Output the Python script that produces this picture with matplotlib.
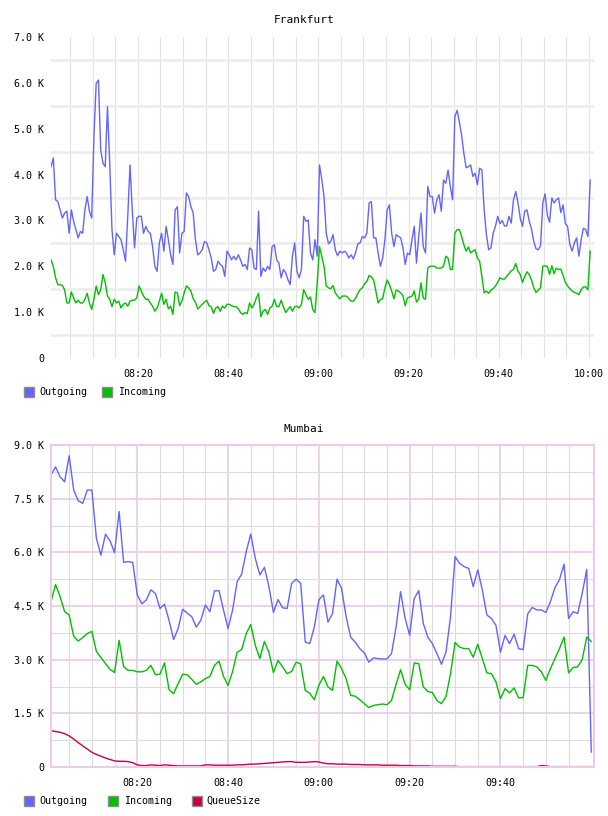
import numpy as np
import pandas as pd
import matplotlib
matplotlib.use("Agg")
import matplotlib.pyplot as plt
import matplotlib.dates as mdates
from matplotlib.patches import Rectangle
from matplotlib.ticker import FixedLocator, FuncFormatter

# Frankfurt: samples every 30 s, values in thousands
fra_start = "2020-01-01 08:00:45"
fra_out = [4.17, 4.36, 3.45, 3.41, 3.23, 3.05, 3.16, 3.2, 2.72, 3.23,
           2.98, 2.8, 2.62, 2.76, 2.72, 3.23, 3.52, 3.2, 3.05, 4.83,
           5.99, 6.06, 4.54, 4.25, 4.17, 5.48, 4.25, 2.8, 2.25, 2.72,
           2.65, 2.58, 2.36, 2.11, 3.09, 4.21, 3.23, 2.4, 3.05, 3.09,
           3.09, 2.72, 2.87, 2.76, 2.72, 2.43, 2.0, 1.89, 2.51, 2.72,
           2.33, 2.87, 2.58, 2.25, 2.04, 3.23, 3.3, 2.29, 2.72, 2.76,
           3.6, 3.52, 3.3, 3.16, 2.58, 2.25, 2.29, 2.36, 2.54, 2.51,
           2.36, 2.18, 1.89, 1.93, 2.11, 2.04, 2.0, 1.78, 2.33, 2.25,
           2.14, 2.22, 2.14, 2.25, 2.14, 2.0, 2.04, 1.93, 2.4, 2.36,
           1.96, 1.93, 3.2, 1.78, 1.96, 1.89, 2.0, 1.93, 2.43, 2.47,
           2.14, 2.07, 1.75, 1.93, 1.86, 1.71, 1.6, 2.22, 2.51, 1.89,
           1.75, 1.93, 3.09, 2.98, 3.01, 2.29, 2.14, 2.58, 2.22, 4.21,
           3.9, 3.52, 2.72, 2.49, 2.54, 2.69, 2.36, 2.23, 2.33, 2.29,
           2.33, 2.29, 2.18, 2.25, 2.16, 2.3, 2.49, 2.51, 2.65, 2.62,
           2.72, 3.38, 3.41, 2.62, 2.62, 2.29, 2.0, 2.18, 2.58, 3.23,
           3.34, 2.72, 2.43, 2.69, 2.65, 2.62, 2.4, 2.04, 2.29, 2.25,
           2.58, 2.87, 2.07, 2.65, 3.16, 2.43, 2.29, 3.74, 3.52, 3.52,
           3.16, 3.45, 3.56, 3.2, 3.88, 3.81, 4.1, 3.74, 3.45, 5.26,
           5.4, 5.15, 4.86, 4.46, 4.15, 4.17, 4.21, 3.96, 4.03, 3.78,
           4.14, 4.1, 3.23, 2.69, 2.36, 2.4, 2.72, 2.87, 3.09, 2.93,
           3.0, 2.88, 2.88, 3.09, 2.94, 3.45, 3.63, 3.38, 3.05, 2.87,
           3.2, 3.23, 2.98, 2.81, 2.54, 2.38, 2.36, 2.45, 3.38, 3.58,
           3.12, 2.96, 3.49, 3.38, 3.45, 3.49, 3.17, 3.34, 2.93, 2.87,
           2.47, 2.33, 2.51, 2.62, 2.22, 2.58, 2.83, 2.8, 2.65, 3.88]
fra_in = [2.14, 2.0, 1.75, 1.6, 1.6, 1.58, 1.49, 1.2, 1.2, 1.44,
          1.31, 1.2, 1.26, 1.2, 1.2, 1.28, 1.41, 1.2, 1.06, 1.28,
          1.57, 1.38, 1.49, 1.82, 1.64, 1.35, 1.28, 1.12, 1.28, 1.2,
          1.24, 1.09, 1.17, 1.2, 1.13, 1.24, 1.26, 1.26, 1.31, 1.57,
          1.46, 1.35, 1.28, 1.28, 1.2, 1.13, 1.02, 1.09, 1.24, 1.41,
          1.17, 1.28, 1.07, 1.13, 0.95, 1.44, 1.42, 1.14, 1.24, 1.42,
          1.57, 1.53, 1.46, 1.29, 1.22, 1.07, 1.12, 1.17, 1.22, 1.26,
          1.14, 1.12, 0.97, 1.09, 1.12, 1.02, 1.13, 1.09, 1.17, 1.17,
          1.14, 1.12, 1.12, 1.07, 0.99, 0.95, 0.99, 0.97, 1.2, 1.09,
          1.17, 1.31, 1.41, 0.9, 1.02, 1.06, 0.95, 1.09, 1.13, 1.28,
          1.12, 1.12, 1.26, 1.12, 0.99, 1.06, 1.12, 1.02, 1.12, 1.13,
          1.09, 1.17, 1.49, 1.38, 1.28, 1.33, 1.06, 0.99, 1.64, 2.43,
          2.22, 2.0, 1.57, 1.53, 1.51, 1.58, 1.42, 1.35, 1.29, 1.35,
          1.35, 1.35, 1.29, 1.24, 1.24, 1.3, 1.41, 1.49, 1.53, 1.62,
          1.67, 1.8, 1.77, 1.7, 1.46, 1.2, 1.28, 1.29, 1.53, 1.7,
          1.6, 1.46, 1.29, 1.48, 1.46, 1.42, 1.36, 1.14, 1.31, 1.33,
          1.35, 1.46, 1.22, 1.28, 1.64, 1.31, 1.28, 1.96, 2.0, 2.0,
          2.0, 1.96, 1.96, 1.96, 2.0, 2.22, 2.18, 1.93, 1.93, 2.72,
          2.8, 2.8, 2.65, 2.47, 2.33, 2.42, 2.29, 2.33, 2.36, 2.18,
          2.11, 1.78, 1.42, 1.46, 1.41, 1.48, 1.51, 1.57, 1.65, 1.75,
          1.72, 1.72, 1.78, 1.84, 1.9, 1.93, 2.06, 1.89, 1.82, 1.65,
          1.78, 1.88, 1.82, 1.7, 1.53, 1.43, 1.48, 1.53, 2.0, 2.01,
          2.0, 1.82, 2.01, 1.84, 1.96, 1.93, 1.94, 1.8, 1.65, 1.57,
          1.51, 1.46, 1.43, 1.41, 1.38, 1.49, 1.55, 1.55, 1.49, 2.33]

# Mumbai: samples every minute, values in thousands
mum_start = "2020-01-01 08:01:00"
mum_out = [8.16, 8.39, 8.11, 7.97, 8.7, 7.74, 7.44, 7.37, 7.74, 7.74,
           6.39, 5.92, 6.51, 6.32, 5.99, 7.14, 5.72, 5.74, 5.72, 4.81,
           4.56, 4.67, 4.95, 4.85, 4.43, 4.55, 4.1, 3.56, 3.87, 4.41,
           4.3, 4.2, 3.91, 4.1, 4.53, 4.34, 4.92, 4.93, 4.39, 3.87,
           4.39, 5.18, 5.39, 6.02, 6.51, 5.83, 5.37, 5.58, 5.04, 4.32,
           4.68, 4.45, 4.43, 5.13, 5.25, 5.13, 3.49, 3.45, 3.91, 4.67,
           4.81, 4.05, 4.29, 5.25, 4.99, 4.2, 3.63, 3.49, 3.31, 3.19,
           2.93, 3.05, 3.03, 3.02, 3.02, 3.17, 3.91, 4.9, 4.15, 3.68,
           4.71, 4.93, 4.01, 3.63, 3.45, 3.17, 2.87, 3.21, 4.2, 5.88,
           5.69, 5.6, 5.55, 5.04, 5.51, 4.95, 4.25, 4.15, 3.96, 3.21,
           3.68, 3.45, 3.71, 3.31, 3.28, 4.28, 4.46, 4.39, 4.39, 4.32,
           4.62, 5.01, 5.24, 5.67, 4.15, 4.34, 4.29, 4.85, 5.52, 0.42]
mum_in = [4.62, 5.1, 4.76, 4.34, 4.25, 3.65, 3.52, 3.62, 3.73, 3.79,
          3.23, 3.06, 2.89, 2.73, 2.64, 3.54, 2.8, 2.7, 2.7, 2.66,
          2.66, 2.7, 2.84, 2.58, 2.59, 2.91, 2.16, 2.05, 2.33, 2.59,
          2.58, 2.45, 2.31, 2.38, 2.47, 2.53, 2.84, 2.96, 2.53, 2.28,
          2.67, 3.21, 3.28, 3.73, 3.98, 3.4, 3.03, 3.51, 3.2, 2.64,
          2.98, 2.8, 2.61, 2.67, 2.93, 2.88, 2.14, 2.06, 1.88, 2.28,
          2.53, 2.24, 2.14, 2.96, 2.75, 2.47, 2.0, 1.98, 1.88, 1.77,
          1.66, 1.72, 1.74, 1.76, 1.74, 1.86, 2.31, 2.72, 2.31, 2.16,
          2.91, 2.89, 2.24, 2.11, 2.08, 1.86, 1.77, 1.97, 2.61, 3.48,
          3.35, 3.31, 3.31, 3.07, 3.43, 3.03, 2.63, 2.61, 2.38, 1.91,
          2.19, 2.07, 2.21, 1.93, 1.94, 2.84, 2.84, 2.8, 2.66, 2.42,
          2.75, 3.03, 3.31, 3.63, 2.63, 2.78, 2.8, 3.0, 3.63, 3.51]
mum_queue = [1.02, 0.99, 0.97, 0.93, 0.87, 0.78, 0.68, 0.59, 0.5, 0.41,
             0.35, 0.3, 0.25, 0.21, 0.17, 0.16, 0.16, 0.15, 0.12, 0.06,
             0.04, 0.04, 0.06, 0.05, 0.04, 0.06, 0.05, 0.04, 0.03, 0.03,
             0.03, 0.03, 0.03, 0.03, 0.06, 0.06, 0.05, 0.05, 0.05, 0.05,
             0.05, 0.06, 0.06, 0.07, 0.08, 0.08, 0.09, 0.1, 0.11, 0.12,
             0.13, 0.14, 0.15, 0.15, 0.13, 0.13, 0.13, 0.14, 0.15, 0.14,
             0.11, 0.09, 0.09, 0.08, 0.08, 0.08, 0.07, 0.07, 0.07, 0.06,
             0.06, 0.06, 0.06, 0.05, 0.05, 0.05, 0.05, 0.04, 0.04, 0.04,
             0.03, 0.03, 0.03, 0.03, 0.02, 0.02, 0.02, 0.02, 0.02, 0.02,
             0.01, 0.01, 0.01, 0.01, 0.01, 0.01, 0.01, 0.01, 0.01, 0.01,
             0.01, 0.01, 0.01, 0.01, 0.01, 0.01, 0.01, 0.01, 0.04, 0.03,
             0.01, 0.01, 0.01, 0.01, 0.01, 0.01, 0.01, 0.01, 0.01, 0.01]

blue = "#6464ff"
green = "#00c000"
red = "#c8003c"
mono = "DejaVu Sans Mono"

W, H = 608, 816
fig = plt.figure(figsize=(W / 100, H / 100), dpi=100)


def k_fmt(v, pos):
    return "0" if v == 0 else "%.1f K" % (v / 1000)


def add_axes(left, top, right, bottom):
    return fig.add_axes([left / W, 1 - bottom / H, (right - left) / W, (bottom - top) / H])


def legend(y, items):
    for x, tx, label, col in items:
        fig.add_artist(Rectangle((x / W, 1 - (y + 5) / H), 10 / W, 10 / H,
                                 transform=fig.transFigure, facecolor=col,
                                 edgecolor="#8c8c8c", lw=1))
        fig.text(tx / W, 1 - y / H, label, family=mono, fontsize=7.2,
                 va="center", ha="left")


def style_ticks(ax, last):
    ax.tick_params(which="both", length=0, labelsize=7.2)
    ax.tick_params(axis="y", pad=5)
    ax.tick_params(axis="x", pad=8)
    major = pd.date_range("2020-01-01 08:20", last, freq="20min")
    minor = pd.date_range("2020-01-01 08:05", last, freq="5min")
    ax.xaxis.set_major_locator(FixedLocator(mdates.date2num(major)))
    ax.xaxis.set_minor_locator(FixedLocator(mdates.date2num(minor)))
    ax.xaxis.set_major_formatter(mdates.DateFormatter("%H:%M"))
    ax.yaxis.set_major_formatter(FuncFormatter(k_fmt))
    ax.set_axisbelow(True)


# ---- Frankfurt ----
t_fra = pd.date_range(fra_start, periods=len(fra_out), freq="30s")
ax1 = add_axes(51, 37, 594, 358)
ax1.plot(t_fra, np.array(fra_out) * 1000, color=blue, lw=1.0)
ax1.plot(t_fra, np.array(fra_in) * 1000, color=green, lw=1.0)
ax1.set_ylim(0, 7000)
ax1.set_xlim(pd.Timestamp("2020-01-01 08:00:44"), pd.Timestamp("2020-01-01 10:01:06"))
style_ticks(ax1, "2020-01-01 10:00")
ax1.yaxis.set_major_locator(FixedLocator(np.arange(0, 7001, 1000)))
ax1.yaxis.set_minor_locator(FixedLocator(np.arange(500, 7000, 1000)))
ax1.yaxis.grid(True, which="minor", color="#ececec", lw=1.8)
ax1.xaxis.grid(True, which="both", color="#e2e2e2", lw=0.8)
for s in ax1.spines.values():
    s.set_visible(False)
for lab in ax1.get_xticklabels() + ax1.get_yticklabels():
    lab.set_family(mono)
fig.text(304 / W, 1 - 20 / H, "Frankfurt", family=mono, fontsize=8,
         ha="center", va="center")
legend(392, [(24, 39, "Outgoing", blue), (102, 118, "Incoming", green)])

# ---- Mumbai ----
t_mum = pd.date_range(mum_start, periods=len(mum_out), freq="1min")
ax2 = add_axes(51, 445, 594, 767)
ax2.plot(t_mum, np.array(mum_out) * 1000, color=blue, lw=1.0)
ax2.plot(t_mum, np.array(mum_in) * 1000, color=green, lw=1.0)
ax2.plot(t_mum, np.array(mum_queue) * 1000, color=red, lw=1.0)
ax2.set_ylim(0, 9000)
ax2.set_xlim(pd.Timestamp("2020-01-01 08:01:00"), pd.Timestamp("2020-01-01 10:00:36"))
style_ticks(ax2, "2020-01-01 09:55")
ax2.yaxis.set_major_locator(FixedLocator(np.arange(0, 9001, 1500)))
ax2.yaxis.set_minor_locator(FixedLocator(np.arange(750, 9000, 1500)))
pink = "#e8cce8"
ax2.yaxis.grid(True, which="major", color=pink, lw=1.2)
ax2.yaxis.grid(True, which="minor", color="#dcdcdc", lw=0.8)
ax2.xaxis.grid(True, which="major", color=pink, lw=1.2)
ax2.xaxis.grid(True, which="minor", color="#dcdcdc", lw=0.8)
for s in ax2.spines.values():
    s.set_color(pink)
    s.set_linewidth(1.5)
for lab in ax2.get_xticklabels() + ax2.get_yticklabels():
    lab.set_family(mono)
fig.text(304 / W, 1 - 429 / H, "Mumbai", family=mono, fontsize=8,
         ha="center", va="center")
legend(801, [(24, 39, "Outgoing", blue), (108, 124, "Incoming", green),
             (192, 206, "QueueSize", red)])

fig.savefig("out.png", dpi=100)
